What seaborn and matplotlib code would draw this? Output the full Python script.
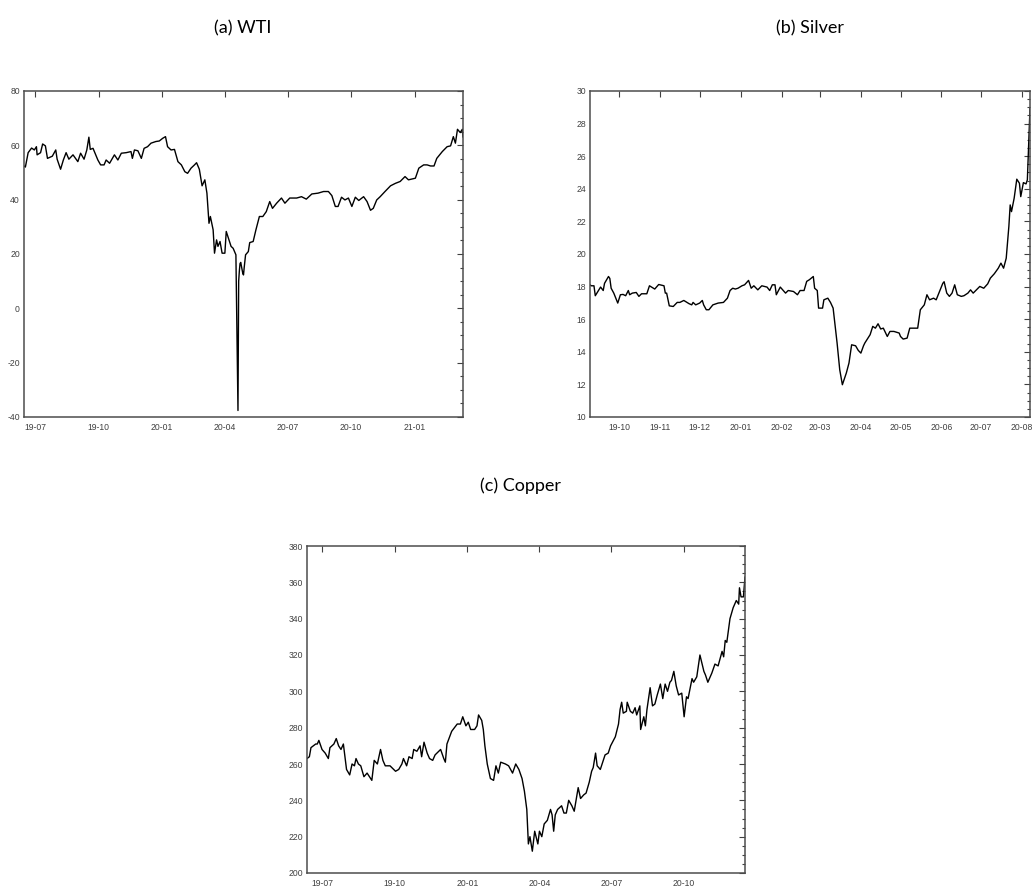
import numpy as np
import pandas as pd
import matplotlib
matplotlib.use("Agg")
import matplotlib.pyplot as plt
import matplotlib.dates as mdates
from matplotlib.ticker import MultipleLocator, AutoMinorLocator
import seaborn as sns

# ---------------- data ----------------
WTI_START = "2019-07-01"
wti_day = [-16, -14, -10, -5, -1, 2, 3, 8, 11, 15, 18, 25, 30, 32, 37, 41, 45, 49, 55, 62, 66, 71, 75, 78, 80, 84,
           91, 95, 100, 103, 108, 115, 120, 125, 132, 139, 141, 144, 149, 154, 158, 163, 168, 175, 180, 185, 189,
           192, 197, 202, 207, 212, 217, 221, 226, 231, 234, 238, 242, 246, 249, 252, 254, 258, 260, 263, 265, 268,
           271, 275, 277, 281, 284, 287, 291, 294, 295, 296, 297, 298, 301, 302, 303, 305, 309, 311, 316, 320, 325,
           330, 335, 340, 344, 350, 357, 362, 369, 379, 386, 393, 401, 410, 418, 425, 430, 435, 439, 444, 449, 454,
           459, 464, 469, 476, 481, 486, 490, 495, 500, 507, 515, 522, 529, 536, 541, 551, 556, 563, 568, 573, 578,
           582, 590, 597, 602, 606, 609, 612, 616, 619, 620]
wti_price = [52.4, 52.0, 57.3, 59.0, 58.3, 59.5, 56.5, 57.3, 60.5, 59.8, 55.2, 56.0, 58.3, 54.9, 51.2, 54.6, 57.3,
             54.9, 56.5, 54.0, 57.1, 54.9, 58.3, 63.0, 58.5, 58.9, 54.6, 52.8, 52.8, 54.6, 53.4, 56.5, 54.6, 57.1,
             57.3, 57.7, 55.2, 58.3, 58.0, 55.2, 58.9, 59.5, 60.8, 61.4, 61.6, 62.6, 63.2, 59.5, 58.3, 58.5, 54.0,
             52.8, 50.3, 49.7, 51.6, 52.8, 53.6, 51.2, 45.1, 47.3, 42.4, 31.3, 33.8, 28.9, 20.3, 25.2, 22.8, 24.6,
             20.3, 20.3, 28.3, 25.2, 22.8, 22.1, 19.7, -37.6, 10.0, 13.8, 16.5, 16.9, 12.8, 12.3, 15.0, 19.7, 20.9,
             24.2, 24.6, 28.9, 33.8, 33.8, 35.6, 39.3, 36.8, 38.7, 40.6, 38.7, 40.6, 40.6, 41.1, 40.2, 42.1, 42.4,
             43.0, 43.0, 41.5, 37.5, 37.5, 40.9, 39.9, 40.6, 37.5, 40.9, 39.7, 41.1, 39.3, 36.1, 36.8, 39.9, 41.1,
             43.0, 45.1, 46.0, 46.7, 48.5, 47.3, 47.9, 51.6, 52.8, 52.8, 52.4, 52.4, 55.2, 57.7, 59.5, 59.8, 63.2,
             60.8, 65.9, 64.7, 65.9, 63.0]

SILVER_START = "2019-10-01"
silver_day = [-22, -21, -19, -18, -16, -14, -12, -11, -8, -7, -6, -4, -1, 1, 3, 5, 7, 8, 10, 13, 15, 17, 21, 23, 27,
              30, 34, 35, 36, 38, 41, 44, 46, 49, 53, 55, 56, 58, 61, 63, 64, 66, 68, 71, 75, 79, 82, 84, 86, 88, 90,
              93, 95, 98, 100, 102, 105, 108, 112, 114, 116, 118, 119, 122, 126, 128, 132, 135, 137, 140, 142, 144,
              147, 148, 150, 151, 154, 155, 158, 160, 162, 165, 167, 169, 172, 174, 176, 179, 181, 183, 185, 186,
              190, 192, 194, 196, 198, 200, 203, 205, 208, 212, 213, 215, 218, 220, 223, 226, 228, 231, 233, 235,
              238, 240, 242, 245, 246, 248, 250, 252, 254, 256, 259, 261, 264, 266, 268, 271, 273, 276, 279, 281,
              284, 287, 289, 291, 293, 295, 296, 297, 299, 301, 303, 304, 306, 308, 309, 311]
silver_price = [18.11, 18.05, 18.05, 17.44, 17.7, 17.97, 17.76, 18.2, 18.62, 18.5, 17.9, 17.6, 16.99, 17.5, 17.52,
                17.44, 17.76, 17.5, 17.6, 17.64, 17.4, 17.56, 17.56, 18.05, 17.85, 18.13, 18.05, 17.6, 17.6, 16.82,
                16.78, 17.03, 17.03, 17.15, 16.95, 16.88, 17.03, 16.88, 16.99, 17.15, 16.88, 16.58, 16.58, 16.88,
                16.99, 17.03, 17.29, 17.76, 17.9, 17.85, 17.9, 18.05, 18.11, 18.38, 17.9, 18.05, 17.8, 18.05, 17.97,
                17.76, 18.11, 18.11, 17.5, 17.97, 17.6, 17.76, 17.7, 17.5, 17.76, 17.76, 18.32, 18.42, 18.62, 17.9,
                17.76, 16.68, 16.68, 17.19, 17.29, 17.03, 16.68, 14.54, 12.9, 11.98, 12.7, 13.31, 14.43, 14.37,
                14.09, 13.92, 14.37, 14.54, 15.05, 15.56, 15.45, 15.72, 15.4, 15.45, 14.94, 15.25, 15.25, 15.15,
                14.94, 14.78, 14.84, 15.45, 15.45, 15.45, 16.58, 16.88, 17.5, 17.19, 17.29, 17.19, 17.6, 18.2, 18.3,
                17.6, 17.4, 17.6, 18.11, 17.5, 17.4, 17.44, 17.6, 17.8, 17.6, 17.85, 18.01, 17.9, 18.17, 18.52,
                18.79, 19.13, 19.44, 19.13, 19.74, 21.69, 23.01, 22.6, 23.42, 24.59, 24.34, 23.52, 24.38, 24.3,
                24.55, 28.94]

COPPER_START = "2019-07-01"
copper_day = [-19, -16, -14, -11, -8, -6, -4, 0, 4, 8, 10, 15, 18, 21, 24, 27, 31, 35, 38, 41, 43, 46, 49, 53, 57,
              63, 66, 70, 74, 77, 80, 86, 93, 97, 101, 103, 107, 110, 114, 116, 120, 124, 126, 129, 133, 136, 140,
              143, 150, 154, 156, 158, 164, 171, 175, 178, 182, 185, 188, 193, 196, 198, 202, 204, 206, 209, 213,
              217, 220, 223, 226, 232, 236, 241, 245, 249, 253, 256, 259, 261, 263, 266, 269, 273, 275, 278, 281,
              285, 289, 291, 293, 295, 298, 303, 306, 309, 312, 316, 319, 322, 324, 327, 331, 334, 338, 341, 343,
              346, 348, 352, 355, 358, 362, 365, 371, 375, 377, 379, 381, 385, 386, 390, 393, 396, 398, 402, 403,
              407, 409, 411, 415, 418, 421, 424, 428, 431, 434, 437, 440, 442, 445, 448, 451, 455, 458, 461, 463,
              468, 470, 474, 478, 483, 485, 488, 493, 497, 501, 506, 508, 510, 512, 516, 520, 524, 527, 528, 530,
              533, 535]
copper_price = [263, 264, 269, 270, 271, 271, 273, 268, 266, 263, 269, 271, 274, 270, 268, 271, 257, 254, 260, 259,
                263, 260, 259, 253, 255, 251, 262, 260, 268, 262, 259, 259, 256, 257, 260, 263, 259, 264, 263, 268,
                267, 270, 264, 272, 266, 263, 262, 265, 268, 263, 261, 271, 278, 282, 282, 286, 281, 283, 279, 279,
                281, 287, 284, 279, 270, 260, 252, 251, 259, 255, 261, 260, 259, 255, 260, 257, 252, 245, 235, 216,
                220, 212, 223, 216, 223, 220, 227, 229, 235, 232, 223, 232, 235, 237, 233, 233, 240, 237, 234, 242,
                247, 241, 243, 244, 250, 256, 258, 266, 259, 257, 261, 265, 266, 270, 275, 282, 290, 294, 288, 289,
                294, 289, 288, 291, 287, 292, 279, 286, 281, 290, 302, 292, 293, 298, 304, 296, 304, 300, 305, 306,
                311, 303, 298, 299, 286, 297, 296, 307, 305, 308, 320, 311, 309, 305, 310, 315, 314, 322, 319, 328,
                327, 340, 346, 350, 348, 357, 352, 352, 363]

titles = ["(a) WTI", "(b) Silver", "(c) Copper"]


def frame(start, days, vals):
    d = pd.to_datetime(start) + pd.to_timedelta(np.asarray(days), unit="D")
    return pd.DataFrame({"date": d, "price": vals})


wti = frame(WTI_START, wti_day, wti_price)
silver = frame(SILVER_START, silver_day, silver_price)
copper = frame(COPPER_START, copper_day, copper_price)

# ---------------- styling ----------------
sns.set_theme(style="white")
plt.rcParams["font.family"] = ["Liberation Sans", "DejaVu Sans"]
plt.rcParams["axes.unicode_minus"] = False

W, H = 1036, 889
fig = plt.figure(figsize=(W / 100, H / 100), dpi=100)


def box(l, t, r, b):
    return [l / W, 1 - b / H, (r - l) / W, (b - t) / H]


panels = [
    (wti, box(24, 91, 463, 417), (-40, 80), 20, mdates.MonthLocator(bymonth=[1, 4, 7, 10])),
    (silver, box(590, 91, 1030, 417), (10, 30), 2, mdates.MonthLocator()),
    (copper, box(307, 546, 745, 873), (200, 380), 20, mdates.MonthLocator(bymonth=[1, 4, 7, 10])),
]

for df, rect, ylim, ystep, xloc in panels:
    ax = fig.add_axes(rect)
    sns.lineplot(data=df, x="date", y="price", ax=ax, color="black", linewidth=1.0,
                 estimator=None, legend=False)
    ax.set_xlim(df["date"].min(), df["date"].max())
    ax.set_ylim(*ylim)
    ax.yaxis.set_major_locator(MultipleLocator(ystep))
    ax.yaxis.set_minor_locator(AutoMinorLocator(4))
    ax.xaxis.set_major_locator(xloc)
    ax.xaxis.set_major_formatter(mdates.DateFormatter("%y-%m"))
    ax.set_xlabel("")
    ax.set_ylabel("")
    ax.tick_params(axis="both", which="both", direction="in", top=True, right=True,
                   colors="#404040", labelcolor="#404040", labelsize=6.2, width=0.8)
    ax.tick_params(axis="both", which="major", length=4)
    ax.tick_params(axis="y", which="minor", length=2)
    ax.tick_params(axis="y", which="major", pad=3)
    ax.tick_params(axis="x", which="major", pad=4)
    for s in ax.spines.values():
        s.set_color("#4d4d4d")
        s.set_linewidth(1.1)

title_pos = [(243, 28), (810, 28), (520, 486)]
for t, (x, y) in zip(titles, title_pos):
    fig.text(x / W, 1 - y / H, t, ha="center", va="center", fontsize=13,
             family=["Lato", "DejaVu Sans"], color="black")

fig.savefig("out.png", dpi=100)
